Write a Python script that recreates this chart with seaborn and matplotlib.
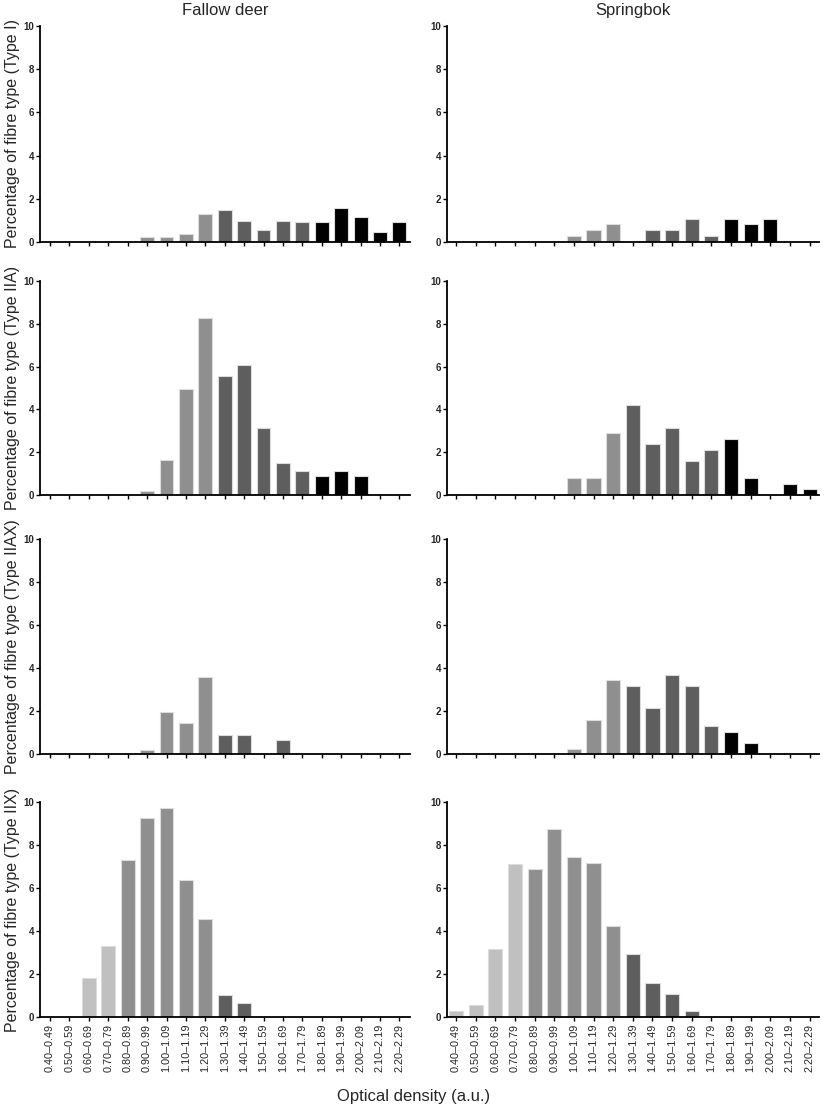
import numpy as np
import pandas as pd
import matplotlib
matplotlib.use("Agg")
import matplotlib.pyplot as plt
import seaborn as sns

# optical density bins (a.u.)
bins = ["0.40\u20130.49", "0.50\u20130.59", "0.60\u20130.69", "0.70\u20130.79", "0.80\u20130.89",
        "0.90\u20130.99", "1.00\u20131.09", "1.10\u20131.19", "1.20\u20131.29", "1.30\u20131.39",
        "1.40\u20131.49", "1.50\u20131.59", "1.60\u20131.69", "1.70\u20131.79", "1.80\u20131.89",
        "1.90\u20131.99", "2.00\u20132.09", "2.10\u20132.19", "2.20\u20132.29"]
# shade group of each bin
bin_group = ["low"] * 4 + ["mid"] * 5 + ["high"] * 5 + ["top"] * 5

species = ["Fallow deer", "Springbok"]
fibre_types = ["Type I", "Type IIA", "Type IIAX", "Type IIX"]

# percentage of fibre type per bin
fallow_I = [0, 0, 0, 0, 0, 0.22, 0.22, 0.39, 1.29, 1.48, 0.96, 0.57, 0.99, 0.91, 0.91, 1.57, 1.14, 0.48, 0.91]
fallow_IIA = [0, 0, 0, 0, 0, 0.2, 1.65, 4.97, 8.25, 5.57, 6.06, 3.14, 1.48, 1.12, 0.9, 1.1, 0.9, 0, 0]
fallow_IIAX = [0, 0, 0, 0, 0, 0.19, 1.97, 1.43, 3.6, 0.89, 0.89, 0, 0.67, 0, 0, 0, 0, 0, 0]
fallow_IIX = [0, 0, 1.82, 3.28, 7.28, 9.25, 9.74, 6.35, 4.58, 1.04, 0.67, 0, 0, 0, 0, 0, 0, 0, 0]

springbok_I = [0, 0, 0, 0, 0, 0, 0.28, 0.56, 0.82, 0, 0.56, 0.56, 1.08, 0.28, 1.08, 0.82, 1.08, 0, 0]
springbok_IIA = [0, 0, 0, 0, 0, 0, 0.81, 0.81, 2.91, 4.22, 2.39, 3.15, 1.58, 2.11, 2.64, 0.79, 0, 0.53, 0.26]
springbok_IIAX = [0, 0, 0, 0, 0, 0, 0.25, 1.58, 3.45, 3.14, 2.13, 3.66, 3.14, 1.32, 1.04, 0.51, 0, 0, 0]
springbok_IIX = [0.3, 0.54, 3.18, 7.13, 6.88, 8.73, 7.42, 7.14, 4.24, 2.92, 1.6, 1.07, 0.3, 0, 0, 0, 0, 0, 0]

data = {
    "Fallow deer": [fallow_I, fallow_IIA, fallow_IIAX, fallow_IIX],
    "Springbok": [springbok_I, springbok_IIA, springbok_IIAX, springbok_IIX],
}

palette = {"low": "#c0c0c0", "mid": "#8f8f8f", "high": "#5e5e5e", "top": "#000000"}

sns.set_style("ticks")
plt.rcParams["font.family"] = ["Liberation Sans", "DejaVu Sans"]

W, H = 828, 1107
fig = plt.figure(figsize=(W / 100, H / 100), dpi=100)

rows_px = [(26, 242), (281, 495), (539, 754), (802, 1017)]
cols_px = [(40, 370, (-0.52, 18.55)), (447, 372, (-0.46, 18.48))]

for c, sp in enumerate(species):
    left, width, xlim = cols_px[c]
    for r, ft in enumerate(fibre_types):
        top, bottom = rows_px[r]
        ax = fig.add_axes([left / W, 1 - bottom / H, width / W, (bottom - top) / H])
        df = pd.DataFrame({"bin": bins, "pct": data[sp][r], "group": bin_group})
        sns.barplot(data=df, x="bin", y="pct", hue="group", palette=palette,
                    dodge=False, width=0.72, edgecolor="#dcdcdc", linewidth=0.8,
                    legend=False, ax=ax)
        ax.set_xlim(*xlim)
        ax.set_ylim(0, 10)
        ax.set_yticks([0, 2, 4, 6, 8, 10])
        sns.despine(ax=ax)
        for s in ["left", "bottom"]:
            ax.spines[s].set_linewidth(1.3)
            ax.spines[s].set_color("black")
        ax.tick_params(axis="both", direction="out", length=3, width=1, color="black")
        for lab in ax.get_yticklabels():
            lab.set_fontweight("bold")
            lab.set_fontsize(7)
        ax.tick_params(axis="y", pad=1)
        ax.tick_params(axis="x", pad=2)
        ax.set_xlabel("")
        if r == 3:
            ax.set_xticks(range(len(bins)))
            ax.set_xticklabels(bins, rotation=90, fontsize=7.8)
        else:
            ax.set_xticklabels([])
        if c == 0:
            ax.set_ylabel(f"Percentage of fibre type ({ft})", fontsize=11.5, va="center")
            ax.yaxis.set_label_coords(-27 / width, 0.5)
        else:
            ax.set_ylabel("")
        if r == 0:
            ax.set_title(sp, fontsize=12, pad=8)

fig.text(414 / W, 1 - 1096 / H, "Optical density (a.u.)", ha="center", va="center", fontsize=12)

fig.savefig("out.png", dpi=100)
